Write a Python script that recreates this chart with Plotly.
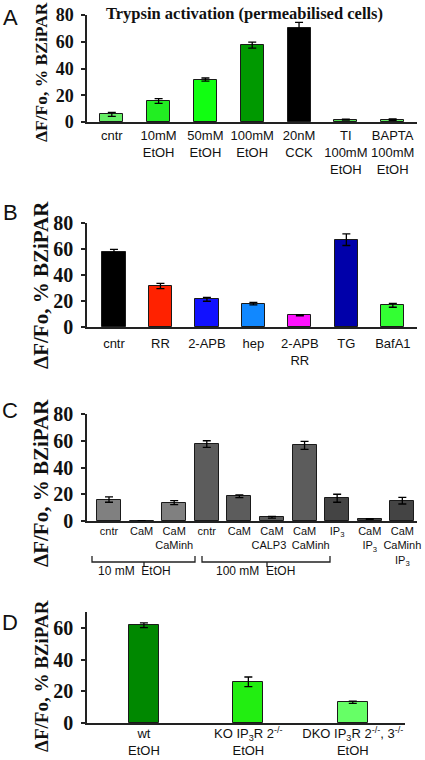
import plotly.graph_objects as go

W, H = 425, 760

# ---------------- data ----------------
A_labels = ["cntr", "10mM<br>EtOH", "50mM<br>EtOH", "100mM<br>EtOH", "20nM<br>CCK",
            "TI<br>100mM<br>EtOH", "BAPTA<br>100mM<br>EtOH"]
A_vals = [5.7, 15.7, 31.7, 57.5, 70.0, 1.8, 1.8]
A_err = [1.5, 1.8, 1.2, 2.2, 4.5, 0.3, 0.5]

B_labels = ["cntr", "RR", "2-APB", "hep", "2-APB<br>RR", "TG", "BafA1"]
B_vals = [57.7, 31.5, 21.3, 18.0, 9.0, 67.2, 16.7]
B_err = [2.0, 2.0, 1.5, 1.0, 0.5, 4.5, 1.5]

C_labels = ["cntr", "CaM", "CaM<br>CaMinh", "cntr", "CaM", "CaM<br>CALP3&nbsp;&nbsp;",
            "CaM<br>&nbsp;&nbsp;&nbsp;&nbsp;CaMinh",
            "IP<sub>3</sub>", "CaM<br>IP<sub>3</sub>", "CaM<br>CaMinh<br>IP<sub>3</sub>"]
C_vals = [16.0, 0.2, 13.7, 57.5, 18.5, 2.8, 56.5, 17.0, 1.5, 15.2]
C_err = [2.0, 0.0, 1.5, 2.5, 1.0, 0.6, 3.0, 3.0, 0.3, 2.5]

D_labels = ["wt<br>EtOH", "KO IP<sub>3</sub>R 2<sup>-/-</sup><br>EtOH",
            "DKO IP<sub>3</sub>R 2<sup>-/-</sup>, 3<sup>-/-</sup><br>EtOH"]
D_vals = [61.7, 26.0, 13.1]
D_err = [1.5, 3.0, 0.7]

# ---------------- styles ----------------
A_colors = ["#66ee66", "#22ee22", "#11ff11", "#009900", "#000000", "#55dd55", "#66ee66"]
B_colors = ["#000000", "#ff2200", "#1111ff", "#1188ff", "#ff11ff", "#0000aa", "#33ff33"]
C_colors = ["#808080"] * 3 + ["#5c5c5c"] * 4 + ["#444444"] * 3
D_colors = ["#008800", "#22ee11", "#66ff66"]

SANS = "Liberation Sans, Arial"
SERIF = "Liberation Serif, Times New Roman"

def px(x):
    return x / W

def py(y):
    return 1 - y / H

fig = go.Figure()

panels = [
    ("", A_labels, A_vals, A_err, A_colors, 0.49, [-0.53, 6.52], [0, 80], (122, 15), 417, 13, 1, 18),
    ("2", B_labels, B_vals, B_err, B_colors, 0.50, [-0.58, 6.52], [0, 80], (327, 223), 417, 13, 4, 20),
    ("3", C_labels, C_vals, C_err, C_colors, 0.74, [-0.675, 9.45], [0, 80], (521, 414), 417, 11, -1, 20),
    ("4", D_labels, D_vals, D_err, D_colors, 0.29, [-0.545, 2.5], [0, 70], (723, 612), 405, 13, -2, 20),
]

layout = {}
for suf, labels, vals, errs, cols, bw, xr, yr, (ybot, ytop), xright, tfs, sto, yfs in panels:
    idx = list(range(len(labels)))
    fig.add_trace(go.Bar(
        x=idx, y=vals, width=bw,
        marker=dict(color=cols, line=dict(color="#1a1a1a", width=1)),
        error_y=dict(type="data", array=errs, visible=True, color="#000000",
                     thickness=1.3, width=4),
        xaxis="x" + suf, yaxis="y" + suf, showlegend=False,
    ))
    layout["xaxis" + suf] = dict(
        domain=[px(87), px(xright)], range=xr, anchor="y" + suf,
        tickmode="array", tickvals=idx, ticktext=labels, tickangle=0,
        showline=True, linecolor="#222222", linewidth=1.5,
        ticks="", showgrid=False, zeroline=False, ticklabelstandoff=sto,
        tickfont=dict(family=SANS, size=tfs, color="#111111"),
    )
    layout["yaxis" + suf] = dict(
        domain=[py(ybot), py(ytop)], range=yr, anchor="x" + suf,
        tickmode="linear", tick0=0, dtick=20,
        showline=True, linecolor="#222222", linewidth=1.5,
        ticks="outside", ticklen=4, tickcolor="#222222", tickwidth=1.5,
        showgrid=False, zeroline=False, ticklabelstandoff=4,
        tickfont=dict(family=SERIF, size=yfs, color="#111111", weight="bold"),
    )

ann = []
# panel letters
for letter, y in [("A", 17), ("B", 213), ("C", 411), ("D", 622)]:
    ann.append(dict(text=letter, x=px(10), y=py(y), xref="paper", yref="paper",
                    showarrow=False, xanchor="center", yanchor="middle",
                    font=dict(family="Liberation Sans, Arial", size=22, color="#111111")))
# y-axis titles
for y, fs in [(72, 17.5), (285, 21), (483, 21), (676, 19)]:
    ann.append(dict(text="ΔF/Fo, % BZiPAR", x=px(41), y=py(y), xref="paper", yref="paper",
                    showarrow=False, textangle=-90, xanchor="center", yanchor="middle",
                    font=dict(family=SERIF, size=fs, color="#111111", weight="bold")))
# panel A title
ann.append(dict(text="Trypsin activation (permeabilised cells)", x=px(244), y=py(14),
                xref="paper", yref="paper", showarrow=False, xanchor="center", yanchor="middle",
                font=dict(family=SERIF, size=16.5, color="#111111", weight="bold")))
# bracket labels in panel C
for txt, xc in [("10 mM  EtOH", 134), ("100 mM  EtOH", 255)]:
    ann.append(dict(text=txt, x=px(xc), y=py(571), xref="paper", yref="paper",
                    showarrow=False, xanchor="center", yanchor="middle",
                    font=dict(family=SANS, size=12, color="#111111")))

shapes = []
for x0, x1, xm in [(92, 195, 144), (202, 330, 267)]:
    path = (f"M {px(x0)},{py(556)} L {px(x0)},{py(562)} L {px(x1)},{py(562)} L {px(x1)},{py(556)} "
            f"M {px(xm)},{py(562)} L {px(xm)},{py(567)}")
    shapes.append(dict(type="path", path=path, xref="paper", yref="paper",
                       line=dict(color="#222222", width=1.3)))

fig.update_layout(
    width=W, height=H, margin=dict(l=0, r=0, t=0, b=0, autoexpand=False),
    paper_bgcolor="white", plot_bgcolor="white",
    bargap=0, annotations=ann, shapes=shapes, **layout,
)

fig.write_html("out.html", config={"displayModeBar": False},
               post_script="document.body.style.margin='0';document.body.style.overflow='hidden';")
